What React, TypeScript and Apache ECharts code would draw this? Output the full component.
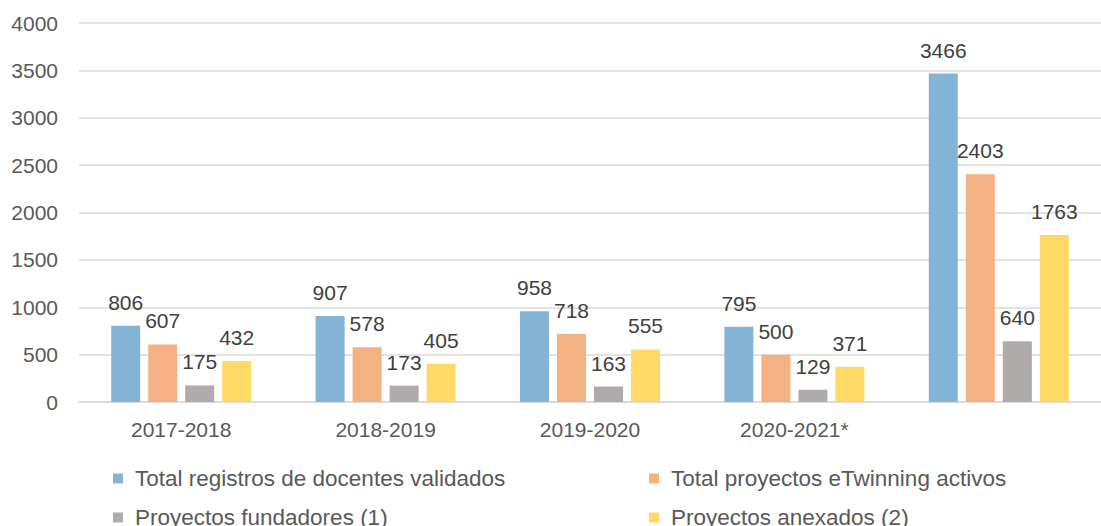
import React, { useEffect, useRef } from "react";
import * as echarts from "echarts";

const categories = ["2017-2018", "2018-2019", "2019-2020", "2020-2021*", ""];
const seriesNames = [
  "Total registros de docentes validados",
  "Total proyectos eTwinning activos",
  "Proyectos fundadores (1)",
  "Proyectos anexados (2)",
];
const registros = [806, 907, 958, 795, 3466];
const activos = [607, 578, 718, 500, 2403];
const fundadores = [175, 173, 163, 129, 640];
const anexados = [432, 405, 555, 371, 1763];
const colors = ["#84B4D6", "#F4B183", "#AFABAB", "#FFD966"];

const FONT = "'Liberation Sans', Arial, Helvetica, sans-serif";
const TEXT = "#404040";
const AXIS_TEXT = "#595959";

export default function App() {
  const ref = useRef<HTMLDivElement>(null);
  useEffect(() => {
    if (!ref.current) return;
    const chart = echarts.init(ref.current, null, { renderer: "svg" });
    const values = [registros, activos, fundadores, anexados];
    const legendPos = [
      { left: 108, top: 462 },
      { left: 644, top: 462 },
      { left: 108, top: 501 },
      { left: 644, top: 501 },
    ];
    chart.setOption({
      animation: false,
      textStyle: { fontFamily: FONT },
      grid: { left: 79, right: 0, top: 23, bottom: 124, containLabel: false },
      xAxis: {
        type: "category",
        data: categories,
        axisLine: { lineStyle: { color: "#D9D9D9", width: 1.5 } },
        axisTick: { show: false },
        axisLabel: { color: AXIS_TEXT, fontSize: 21, margin: 17, fontFamily: FONT },
      },
      yAxis: {
        type: "value",
        min: 0,
        max: 4000,
        interval: 500,
        axisLine: { show: false },
        axisTick: { show: false },
        splitLine: { lineStyle: { color: "#D9D9D9", width: 1.5 } },
        axisLabel: {
          color: AXIS_TEXT,
          fontSize: 21,
          margin: 21,
          fontFamily: FONT,
          formatter: (v: number) => String(v),
        },
      },
      legend: seriesNames.map((name, i) => ({
        left: legendPos[i].left,
        top: legendPos[i].top,
        orient: "horizontal",
        itemWidth: 10,
        itemHeight: 10,
        icon: "rect",
        data: [name],
        textStyle: { color: AXIS_TEXT, fontSize: 22.5, fontFamily: FONT, padding: [0, 0, 0, 7] },
      })),
      series: seriesNames.map((name, i) => ({
        name,
        type: "bar",
        data: values[i],
        barWidth: 29,
        barGap: "27.6%",
        itemStyle: { color: colors[i] },
        label: {
          show: true,
          position: "top",
          distance: 13,
          color: TEXT,
          fontSize: 21,
          fontFamily: FONT,
        },
      })),
    });
    return () => chart.dispose();
  }, []);
  return (
    <div
      ref={ref}
      style={{ position: "fixed", left: 0, top: 0, width: 1101, height: 526, background: "#fff" }}
    />
  );
}
